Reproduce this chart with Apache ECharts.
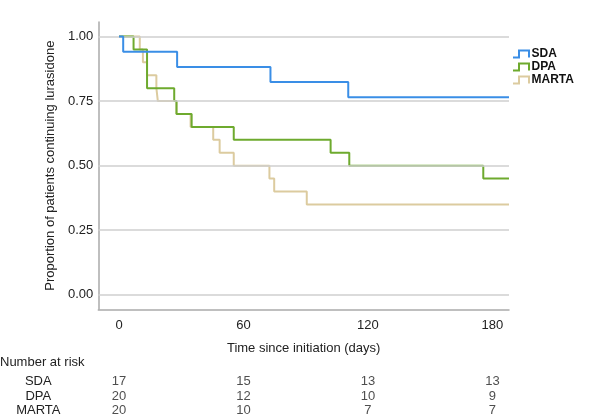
<!DOCTYPE html>
<html>
<head>
<meta charset="utf-8">
<script src="https://cdn.jsdelivr.net/npm/echarts@6/dist/echarts.min.js"></script>
<style>
  html, body { margin: 0; padding: 0; background: #fff; }
  #main { width: 590px; height: 418px; }
</style>
</head>
<body>
<div id="main"></div>
<script>
// Kaplan-Meier steps (time in days, proportion continuing)
const sdaTime = [0, 2, 28, 73, 110.5, 188]
const sdaSurv = [1, 0.941, 0.882, 0.824, 0.765, 0.765]
const dpaTime = [0, 7, 13.5, 26.6, 27.7, 35, 55.3, 102, 111, 175.6, 188]
const dpaSurv = [1, 0.95, 0.8, 0.75, 0.7, 0.65, 0.6, 0.55, 0.5, 0.45, 0.45]
const martaTime = [0, 10, 11.5, 13.5, 18, 18.7, 27.7, 34.5, 45.4, 48.5, 55.3, 72.5, 74.8, 90.5, 188]
const martaSurv = [1, 0.95, 0.9, 0.85, 0.8, 0.75, 0.7, 0.65, 0.6, 0.55, 0.5, 0.45, 0.4, 0.35, 0.35]

const xTicks = [0, 60, 120, 180]
const yTicks = [0, 0.25, 0.5, 0.75, 1]

// number at risk table
const riskGroups = ['SDA', 'DPA', 'MARTA']
const riskTimes = [0, 60, 120, 180]
const riskSDA = [17, 15, 13, 13]
const riskDPA = [20, 12, 10, 9]
const riskMARTA = [20, 10, 7, 7]

const colors = { SDA: '#3a8ee6', DPA: '#6eaa2e', MARTA: '#dccb9f' }
const font = "'Liberation Sans', Arial, sans-serif"

function pairs(t, s) {
  return t.map((v, i) => [v, s[i]])
}

function riskData() {
  const rows = [riskSDA, riskDPA, riskMARTA]
  const out = []
  rows.forEach((row, r) => {
    row.forEach((n, i) => out.push([riskTimes[i], riskGroups[r], n]))
  })
  return out
}

let chartDom = document.getElementById('main')
let myChart = echarts.init(chartDom)
let option

option = {
  animation: false,
  textStyle: { fontFamily: font },
  legend: {
    orient: 'vertical',
    left: 507,
    top: 43,
    itemGap: 1,
    itemWidth: 17,
    itemHeight: 7,
    icon: 'path://M0,7L6,7L6,0L16,0L16,7',
    textStyle: { fontSize: 12, fontWeight: 'bold', color: '#111', fontFamily: font, padding: [0, 0, 0, -3] },
    data: riskGroups.map(g => ({
      name: g,
      itemStyle: { color: 'transparent', borderColor: colors[g], borderWidth: 2 }
    }))
  },
  graphic: [
    {
      type: 'text',
      left: 0,
      top: 356,
      style: { text: 'Number at risk', fontSize: 13, fill: '#222', fontFamily: font }
    }
  ],
  grid: [
    { left: 98.3, right: 81, top: 22, bottom: 108.7 },
    { left: 98.3, right: 81, top: 374, height: 48 }
  ],
  xAxis: [
    {
      type: 'value',
      min: -10,
      max: 188,
      name: 'Time since initiation (days)',
      nameLocation: 'middle',
      nameGap: 33,
      nameTextStyle: { fontSize: 13, color: '#222', fontFamily: font },
      axisLine: { onZero: false, lineStyle: { color: '#aaaaaa', width: 1.5 } },
      axisTick: { show: false },
      splitLine: { show: false },
      axisLabel: { customValues: xTicks, fontSize: 13, color: '#222', margin: 10, fontFamily: font }
    },
    {
      type: 'value',
      gridIndex: 1,
      min: -10,
      max: 188,
      show: false
    }
  ],
  yAxis: [
    {
      type: 'value',
      min: -0.056,
      max: 1.056,
      name: 'Proportion of patients continuing lurasidone',
      nameLocation: 'middle',
      nameGap: 39,
      nameTextStyle: { fontSize: 13, color: '#222', fontFamily: font },
      axisLine: { show: true, onZero: false, lineStyle: { color: '#aaaaaa', width: 1.5 } },
      axisTick: { show: false },
      splitLine: { show: false },
      axisLabel: {
        customValues: yTicks,
        formatter: v => v.toFixed(2),
        fontSize: 13,
        color: '#222',
        margin: 5,
        fontFamily: font
      }
    },
    {
      type: 'category',
      gridIndex: 1,
      inverse: true,
      data: riskGroups,
      axisLine: { show: false },
      axisTick: { show: false },
      splitLine: { show: false },
      axisLabel: { interval: 0, fontSize: 13, color: '#222', align: 'center', margin: 60, fontFamily: font }
    }
  ],
  series: [
    {
      name: 'gridlines',
      type: 'line',
      data: [],
      z: 1,
      silent: true,
      markLine: {
        silent: true,
        symbol: 'none',
        label: { show: false },
        lineStyle: { color: '#cfcfcf', width: 1.5, type: 'solid' },
        data: yTicks.map(v => ({ yAxis: v }))
      }
    },
    {
      name: 'MARTA',
      type: 'line',
      step: 'end',
      showSymbol: false,
      z: 3,
      color: colors.MARTA,
      lineStyle: { width: 2 },
      data: pairs(martaTime, martaSurv)
    },
    {
      name: 'DPA',
      type: 'line',
      step: 'end',
      showSymbol: false,
      z: 4,
      color: colors.DPA,
      lineStyle: { width: 2 },
      data: pairs(dpaTime, dpaSurv)
    },
    {
      name: 'SDA',
      type: 'line',
      step: 'end',
      showSymbol: false,
      z: 5,
      color: colors.SDA,
      lineStyle: { width: 2 },
      data: pairs(sdaTime, sdaSurv)
    },
    {
      name: 'risk',
      type: 'scatter',
      xAxisIndex: 1,
      yAxisIndex: 1,
      symbolSize: 1,
      itemStyle: { color: 'transparent' },
      label: {
        show: true,
        position: 'inside',
        formatter: p => p.value[2],
        fontSize: 13,
        color: '#222',
        fontFamily: font
      },
      data: riskData()
    }
  ]
}

option && myChart.setOption(option)
</script>
</body>
</html>
